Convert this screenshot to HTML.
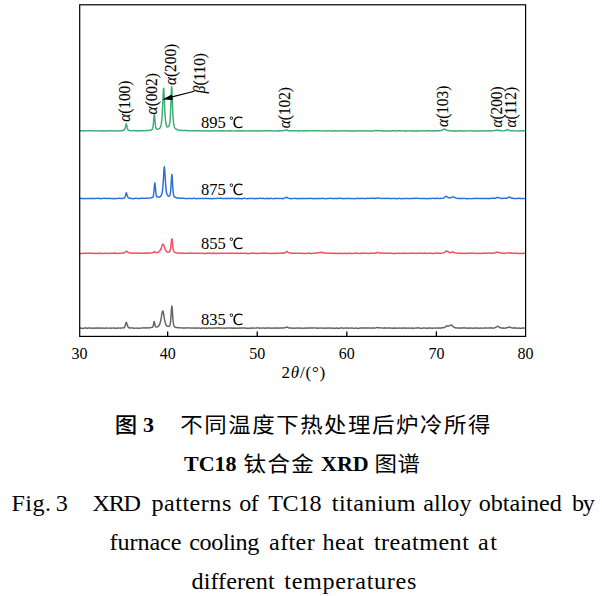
<!DOCTYPE html>
<html><head><meta charset="utf-8"><style>
html,body{margin:0;padding:0;background:#fff;overflow:hidden;width:602px;height:596px;}
svg{display:block;}
.lab{font-family:"Liberation Serif",serif;font-size:17px;fill:#000;stroke:#000;stroke-width:0.15px;}
.it{font-style:italic;}
.tick{font-family:"Liberation Serif",serif;font-size:16px;fill:#000;}
.temp{font-family:"Liberation Serif",serif;font-size:16.5px;fill:#000;}
.deg{font-family:"WenQuanYi Zen Hei",sans-serif;font-size:15.5px;}
.cn{font-family:"Liberation Serif","Noto Sans CJK SC",sans-serif;font-size:21px;fill:#000;}
.cnb{font-family:"Liberation Serif","Noto Sans CJK SC",sans-serif;font-size:22px;font-weight:700;fill:#000;}
.en{font-family:"Liberation Serif",serif;font-size:23px;fill:#000;}
</style></head><body>
<svg width="602" height="596" viewBox="0 0 602 596">
<rect width="602" height="596" fill="#fff"/>
<polyline points="79.70,130.90 80.15,130.90 80.60,130.83 81.04,130.76 81.49,130.75 81.94,130.77 82.39,130.91 82.84,131.00 83.28,130.87 83.73,130.83 84.18,130.92 84.63,130.95 85.08,130.87 85.52,130.80 85.97,130.87 86.42,130.89 86.87,130.76 87.31,130.68 87.76,130.61 88.21,130.57 88.66,130.63 89.11,130.71 89.55,130.76 90.00,130.86 90.45,130.90 90.90,130.75 91.35,130.60 91.79,130.70 92.24,130.86 92.69,130.82 93.14,130.71 93.59,130.71 94.03,130.72 94.48,130.81 94.93,130.91 95.38,130.85 95.82,130.88 96.27,130.94 96.72,130.86 97.17,130.85 97.62,130.89 98.06,130.83 98.51,130.76 98.96,130.89 99.41,130.94 99.86,130.83 100.30,130.89 100.75,130.90 101.20,130.92 101.65,131.08 102.10,130.99 102.54,130.80 102.99,130.85 103.44,130.93 103.89,130.92 104.33,130.93 104.78,130.93 105.23,131.01 105.68,131.02 106.13,130.89 106.57,130.83 107.02,130.84 107.47,130.80 107.92,130.73 108.37,130.74 108.81,130.86 109.26,131.00 109.71,130.96 110.16,130.75 110.61,130.75 111.05,130.79 111.50,130.67 111.95,130.71 112.40,130.89 112.84,131.01 113.29,130.97 113.74,130.84 114.19,130.79 114.64,130.88 115.08,130.97 115.53,130.86 115.98,130.81 116.43,130.85 116.88,130.83 117.32,130.75 117.77,130.71 118.22,130.75 118.67,130.83 119.12,130.94 119.56,130.93 120.01,130.86 120.46,130.83 120.91,130.82 121.36,130.84 121.80,130.81 122.25,130.69 122.70,130.57 123.15,130.48 123.59,130.25 124.04,130.02 124.49,129.75 124.94,128.92 125.39,127.40 125.83,125.30 126.04,124.30 126.26,123.86 126.28,123.97 126.49,124.35 126.73,125.27 127.18,127.49 127.63,129.20 128.07,130.00 128.52,130.25 128.97,130.44 129.42,130.53 129.87,130.55 130.31,130.61 130.76,130.68 131.21,130.79 131.66,130.81 132.10,130.74 132.55,130.70 133.00,130.63 133.45,130.51 133.90,130.58 134.34,130.65 134.79,130.63 135.24,130.67 135.69,130.69 136.14,130.73 136.58,130.77 137.03,130.82 137.48,130.75 137.93,130.69 138.38,130.89 138.82,130.97 139.27,130.82 139.72,130.72 140.17,130.68 140.61,130.70 141.06,130.78 141.51,130.74 141.96,130.67 142.41,130.62 142.85,130.56 143.30,130.62 143.75,130.76 144.20,130.79 144.65,130.78 145.09,130.69 145.54,130.58 145.99,130.55 146.44,130.56 146.89,130.57 147.33,130.54 147.78,130.45 148.23,130.34 148.68,130.43 149.12,130.55 149.57,130.37 150.02,130.22 150.47,130.31 150.92,130.24 151.36,129.92 151.81,129.64 152.26,129.18 152.71,128.15 153.16,125.82 153.60,121.13 154.05,115.57 154.08,115.31 154.30,114.33 154.50,115.06 154.53,115.22 154.95,120.08 155.40,125.04 155.84,127.83 156.29,128.83 156.74,129.15 157.19,129.23 157.63,129.16 158.08,129.10 158.53,129.00 158.98,128.73 159.43,128.36 159.87,127.97 160.32,127.37 160.77,126.30 161.22,124.45 161.67,121.25 162.11,116.02 162.56,108.02 163.01,97.41 163.39,89.59 163.46,88.90 163.62,88.15 163.84,89.66 163.91,90.51 164.35,100.29 164.80,110.39 165.25,117.53 165.70,121.99 166.15,124.54 166.59,125.96 167.04,126.79 167.49,127.02 167.94,126.80 168.38,126.55 168.83,126.18 169.28,125.14 169.73,123.11 170.18,118.92 170.62,110.82 171.07,98.64 171.46,88.65 171.52,87.72 171.68,86.56 171.91,88.74 171.97,89.93 172.42,102.66 172.86,113.93 173.31,120.73 173.76,124.37 174.21,126.43 174.66,127.61 175.10,128.27 175.55,128.67 176.00,128.98 176.45,129.24 176.89,129.50 177.34,129.73 177.79,129.88 178.24,130.06 178.69,130.29 179.13,130.36 179.58,130.28 180.03,130.35 180.48,130.42 180.93,130.34 181.37,130.29 181.82,130.41 182.27,130.57 182.72,130.58 183.17,130.56 183.61,130.62 184.06,130.71 184.51,130.57 184.96,130.39 185.40,130.38 185.85,130.28 186.30,130.23 186.75,130.54 187.20,130.81 187.64,130.72 188.09,130.56 188.54,130.63 188.99,130.81 189.44,130.82 189.88,130.76 190.33,130.76 190.78,130.80 191.23,130.88 191.68,130.88 192.12,130.77 192.57,130.71 193.02,130.75 193.47,130.80 193.91,130.81 194.36,130.72 194.81,130.72 195.26,130.73 195.71,130.76 196.15,130.99 196.60,131.02 197.05,130.88 197.50,130.89 197.95,130.77 198.39,130.59 198.84,130.72 199.29,130.84 199.74,130.78 200.19,130.71 200.63,130.74 201.08,130.86 201.53,130.96 201.98,130.93 202.42,130.93 202.87,130.97 203.32,130.84 203.77,130.69 204.22,130.72 204.66,130.96 205.11,131.07 205.56,131.02 206.01,130.97 206.46,130.91 206.90,130.87 207.35,130.83 207.80,130.82 208.25,130.93 208.70,131.04 209.14,130.99 209.59,130.85 210.04,130.77 210.49,130.85 210.94,131.01 211.38,131.00 211.83,130.88 212.28,130.78 212.73,130.73 213.17,130.85 213.62,130.93 214.07,130.86 214.52,130.81 214.97,130.84 215.41,130.79 215.86,130.70 216.31,130.72 216.76,130.82 217.21,130.88 217.65,130.87 218.10,130.97 218.55,131.04 219.00,130.89 219.45,130.81 219.89,130.86 220.34,130.83 220.79,130.80 221.24,130.97 221.68,131.09 222.13,130.94 222.58,130.79 223.03,130.78 223.48,130.79 223.92,130.71 224.37,130.77 224.82,130.90 225.27,130.91 225.72,131.02 226.16,131.10 226.61,131.01 227.06,131.04 227.51,131.09 227.96,130.93 228.40,130.74 228.85,130.72 229.30,130.89 229.75,131.08 230.19,131.00 230.64,130.79 231.09,130.72 231.54,130.80 231.99,130.88 232.43,130.89 232.88,130.91 233.33,130.91 233.78,130.87 234.23,130.87 234.67,130.90 235.12,130.91 235.57,131.02 236.02,131.13 236.47,131.04 236.91,130.84 237.36,130.74 237.81,130.74 238.26,130.64 238.70,130.69 239.15,130.94 239.60,130.99 240.05,130.82 240.50,130.69 240.94,130.73 241.39,130.83 241.84,131.03 242.29,131.15 242.74,130.98 243.18,130.76 243.63,130.73 244.08,130.81 244.53,130.81 244.98,130.77 245.42,130.78 245.87,130.83 246.32,130.99 246.77,131.10 247.21,131.03 247.66,130.92 248.11,130.91 248.56,130.88 249.01,130.83 249.45,130.77 249.90,130.67 250.35,130.72 250.80,130.89 251.25,130.92 251.69,130.95 252.14,130.91 252.59,130.73 253.04,130.73 253.49,130.89 253.93,130.92 254.38,130.92 254.83,130.98 255.28,130.90 255.73,130.73 256.17,130.78 256.62,130.95 257.07,130.88 257.52,130.79 257.96,130.96 258.41,131.08 258.86,131.03 259.31,130.90 259.76,130.78 260.20,130.89 260.65,131.08 261.10,131.08 261.55,131.01 262.00,130.91 262.44,130.79 262.89,130.71 263.34,130.82 263.79,130.91 264.24,130.87 264.68,130.95 265.13,130.93 265.58,130.78 266.03,130.76 266.47,130.82 266.92,130.84 267.37,130.79 267.82,130.77 268.27,130.77 268.71,130.71 269.16,130.71 269.61,130.86 270.06,130.90 270.51,130.78 270.95,130.78 271.40,130.78 271.85,130.80 272.30,130.90 272.75,130.95 273.19,130.97 273.64,130.90 274.09,130.88 274.54,130.85 274.98,130.83 275.43,130.90 275.88,130.93 276.33,130.94 276.78,130.86 277.22,130.77 277.67,130.82 278.12,130.93 278.57,130.93 279.02,130.83 279.46,130.74 279.91,130.73 280.36,130.80 280.81,130.70 281.26,130.63 281.70,130.82 282.15,130.88 282.60,130.69 283.05,130.61 283.49,130.61 283.94,130.62 284.39,130.61 284.84,130.44 285.29,130.28 285.73,130.15 286.18,130.00 286.21,129.97 286.43,129.86 286.63,129.75 286.66,129.86 287.08,130.22 287.53,130.41 287.97,130.53 288.42,130.67 288.87,130.76 289.32,130.90 289.77,130.97 290.21,130.76 290.66,130.59 291.11,130.61 291.56,130.72 292.00,130.92 292.45,130.94 292.90,130.75 293.35,130.67 293.80,130.85 294.24,130.86 294.69,130.70 295.14,130.74 295.59,130.86 296.04,130.88 296.48,130.82 296.93,130.73 297.38,130.67 297.83,130.79 298.28,131.02 298.72,131.02 299.17,130.85 299.62,130.69 300.07,130.64 300.52,130.76 300.96,130.86 301.41,130.88 301.86,130.82 302.31,130.77 302.75,130.83 303.20,130.95 303.65,131.11 304.10,131.14 304.55,130.93 304.99,130.81 305.44,130.82 305.89,130.79 306.34,130.79 306.79,130.80 307.23,130.82 307.68,130.90 308.13,130.93 308.58,130.90 309.03,130.85 309.47,130.77 309.92,130.75 310.37,130.80 310.82,130.84 311.26,130.89 311.71,130.84 312.16,130.76 312.61,130.77 313.06,130.73 313.50,130.75 313.95,130.73 314.40,130.68 314.85,130.81 315.30,130.91 315.74,130.87 316.19,130.83 316.64,130.79 317.09,130.77 317.54,130.79 317.98,130.83 318.43,130.82 318.88,130.79 319.33,130.87 319.77,130.91 320.22,130.87 320.67,130.87 321.12,130.85 321.57,130.78 322.01,130.87 322.46,130.96 322.91,130.96 323.36,130.92 323.81,130.84 324.25,130.87 324.70,130.97 325.15,130.98 325.60,130.86 326.05,130.78 326.49,130.93 326.94,131.09 327.39,131.07 327.84,130.89 328.28,130.80 328.73,130.91 329.18,130.80 329.63,130.65 330.08,130.73 330.52,130.70 330.97,130.66 331.42,130.83 331.87,130.97 332.32,130.94 332.76,130.99 333.21,131.16 333.66,131.14 334.11,130.95 334.56,130.80 335.00,130.72 335.45,130.79 335.90,130.92 336.35,130.96 336.79,130.98 337.24,130.96 337.69,130.87 338.14,130.89 338.59,131.00 339.03,131.04 339.48,131.05 339.93,130.97 340.38,130.90 340.83,130.87 341.27,130.73 341.72,130.71 342.17,130.87 342.62,130.94 343.07,130.84 343.51,130.72 343.96,130.75 344.41,130.78 344.86,130.67 345.31,130.61 345.75,130.80 346.20,130.99 346.65,130.95 347.10,130.85 347.54,130.90 347.99,130.83 348.44,130.65 348.89,130.77 349.34,130.98 349.78,131.08 350.23,131.16 350.68,131.11 351.13,131.00 351.58,130.98 352.02,130.96 352.47,130.88 352.92,130.91 353.37,131.08 353.82,131.13 354.26,130.98 354.71,130.89 355.16,130.98 355.61,131.04 356.05,131.03 356.50,130.99 356.95,130.86 357.40,130.82 357.85,130.91 358.29,131.02 358.74,130.96 359.19,130.75 359.64,130.75 360.09,130.85 360.53,130.77 360.98,130.76 361.43,130.95 361.88,131.02 362.33,130.95 362.77,130.92 363.22,130.96 363.67,130.98 364.12,130.95 364.56,130.82 365.01,130.77 365.46,130.84 365.91,130.87 366.36,130.94 366.80,130.91 367.25,130.82 367.70,130.84 368.15,130.91 368.60,130.93 369.04,130.85 369.49,130.88 369.94,131.10 370.39,131.27 370.84,131.20 371.28,131.00 371.73,130.99 372.18,131.04 372.63,130.90 373.07,130.78 373.52,130.86 373.97,130.88 374.42,130.72 374.87,130.57 375.31,130.64 375.76,130.76 376.21,130.71 376.66,130.68 377.11,130.71 377.55,130.68 377.94,130.62 378.00,130.59 378.16,130.52 378.39,130.47 378.45,130.54 378.90,130.70 379.35,130.70 379.79,130.64 380.24,130.69 380.69,130.80 381.14,130.81 381.58,130.68 382.03,130.66 382.48,130.91 382.93,131.16 383.38,131.10 383.82,130.96 384.27,131.05 384.72,131.12 385.17,130.95 385.62,130.90 386.06,131.02 386.51,131.03 386.96,130.96 387.41,130.97 387.86,131.14 388.30,131.19 388.75,131.07 389.20,130.89 389.65,130.76 390.10,130.85 390.54,130.93 390.99,130.96 391.44,130.97 391.89,130.81 392.33,130.73 392.78,130.81 393.23,130.82 393.68,130.79 394.13,130.80 394.57,130.72 395.02,130.71 395.47,130.91 395.92,131.04 396.37,131.12 396.81,131.15 397.26,130.91 397.71,130.67 398.16,130.66 398.61,130.71 399.05,130.79 399.50,130.78 399.95,130.72 400.40,130.75 400.84,130.78 401.29,130.84 401.74,130.88 402.19,130.86 402.64,130.85 403.08,130.81 403.53,130.72 403.98,130.70 404.43,130.90 404.88,131.18 405.32,131.25 405.77,131.16 406.22,131.00 406.67,130.94 407.12,131.00 407.56,130.96 408.01,130.87 408.46,130.87 408.91,130.87 409.35,130.85 409.80,130.81 410.25,130.76 410.70,130.92 411.15,131.10 411.59,130.99 412.04,130.89 412.49,130.97 412.94,130.94 413.39,130.81 413.83,130.86 414.28,130.99 414.73,130.97 415.18,131.00 415.63,131.02 416.07,130.91 416.52,130.84 416.97,130.92 417.42,130.92 417.86,130.74 418.31,130.70 418.76,130.84 419.21,130.96 419.66,131.06 420.10,130.98 420.55,130.84 421.00,130.87 421.45,130.87 421.90,130.84 422.34,130.87 422.79,130.72 423.24,130.62 423.69,130.67 424.14,130.69 424.58,130.77 425.03,130.91 425.48,131.02 425.93,131.05 426.37,130.87 426.82,130.69 427.27,130.69 427.72,130.70 428.17,130.74 428.61,130.84 429.06,130.74 429.51,130.69 429.96,130.85 430.41,130.92 430.85,130.92 431.30,130.94 431.75,130.95 432.20,130.97 432.65,131.02 433.09,131.00 433.54,130.95 433.99,130.86 434.44,130.73 434.89,130.76 435.33,130.83 435.78,130.79 436.23,130.80 436.68,130.94 437.12,130.87 437.57,130.63 438.02,130.57 438.47,130.69 438.92,130.73 439.36,130.69 439.81,130.66 440.26,130.63 440.71,130.56 441.16,130.41 441.60,130.31 442.05,130.34 442.50,130.14 442.95,129.66 443.40,129.31 443.84,129.25 443.87,129.29 444.09,129.20 444.29,129.20 444.32,129.24 444.74,129.28 445.19,129.46 445.63,129.66 446.08,129.78 446.53,130.01 446.98,130.34 447.43,130.55 447.87,130.55 448.32,130.50 448.77,130.66 449.22,130.87 449.67,130.89 450.11,130.79 450.56,130.77 451.01,130.82 451.46,130.76 451.91,130.66 452.35,130.79 452.80,130.97 453.25,131.01 453.70,130.97 454.14,130.92 454.59,130.91 455.04,130.85 455.49,130.95 455.94,131.15 456.38,131.05 456.83,130.86 457.28,130.86 457.73,130.97 458.18,130.99 458.62,130.81 459.07,130.67 459.52,130.77 459.97,130.88 460.42,130.96 460.86,131.04 461.31,131.02 461.76,130.93 462.21,130.86 462.65,131.02 463.10,131.18 463.55,131.08 464.00,130.96 464.45,131.01 464.89,131.03 465.34,130.88 465.79,130.86 466.24,130.97 466.69,130.97 467.13,130.90 467.58,130.89 468.03,130.88 468.48,130.88 468.93,130.83 469.37,130.77 469.82,130.88 470.27,130.93 470.72,130.83 471.16,130.85 471.61,130.89 472.06,130.83 472.51,130.80 472.96,130.85 473.40,131.07 473.85,131.28 474.30,131.20 474.75,131.01 475.20,130.96 475.64,130.95 476.09,130.98 476.54,130.98 476.99,130.89 477.44,130.93 477.88,131.01 478.33,131.04 478.78,130.95 479.23,130.85 479.68,130.92 480.12,130.98 480.57,130.95 481.02,130.91 481.47,130.75 481.91,130.69 482.36,130.91 482.81,131.01 483.26,130.94 483.71,130.95 484.15,130.97 484.60,130.86 485.05,130.78 485.50,130.89 485.95,130.92 486.39,130.86 486.84,130.90 487.29,130.82 487.74,130.80 488.19,130.94 488.63,130.86 489.08,130.72 489.53,130.81 489.98,131.00 490.42,131.00 490.87,130.89 491.32,130.90 491.77,130.90 492.22,130.82 492.66,130.82 493.11,130.78 493.56,130.68 494.01,130.63 494.46,130.61 494.90,130.50 495.35,130.31 495.80,130.21 496.25,130.16 496.70,130.05 496.90,130.06 497.13,130.08 497.14,130.12 497.35,130.11 497.59,130.01 498.04,130.09 498.49,130.33 498.93,130.64 499.38,130.68 499.83,130.46 500.28,130.53 500.73,130.80 501.17,130.92 501.62,130.90 502.07,130.85 502.52,130.87 502.97,130.88 503.41,130.86 503.86,130.76 504.31,130.60 504.76,130.59 505.21,130.58 505.65,130.50 506.10,130.27 506.55,129.99 507.00,129.81 507.44,129.59 507.47,129.49 507.70,129.48 507.89,129.64 507.92,129.81 508.34,129.96 508.79,130.14 509.24,130.37 509.68,130.51 510.13,130.62 510.58,130.80 511.03,130.87 511.48,130.80 511.92,130.77 512.37,130.81 512.82,130.80 513.27,130.81 513.72,130.89 514.16,130.89 514.61,130.85 515.06,130.83 515.51,130.88 515.95,130.91 516.40,130.95 516.85,131.08 517.30,131.11 517.75,131.12 518.19,131.03 518.64,130.85 519.09,130.83 519.54,130.91 519.99,130.92 520.43,130.88 520.88,130.77 521.33,130.68 521.78,130.66 522.23,130.67 522.67,130.78 523.12,130.80 523.57,130.77 524.02,130.85 524.47,130.84 524.91,130.67 525.36,130.65" fill="none" stroke="#3aad72" stroke-width="1.45" stroke-linejoin="round"/>
<polyline points="79.70,198.28 80.15,198.19 80.60,198.37 81.04,198.55 81.49,198.50 81.94,198.44 82.39,198.40 82.84,198.44 83.28,198.47 83.73,198.50 84.18,198.63 84.63,198.71 85.08,198.60 85.52,198.46 85.97,198.43 86.42,198.49 86.87,198.54 87.31,198.56 87.76,198.62 88.21,198.56 88.66,198.36 89.11,198.41 89.55,198.55 90.00,198.46 90.45,198.38 90.90,198.35 91.35,198.34 91.79,198.55 92.24,198.80 92.69,198.67 93.14,198.39 93.59,198.33 94.03,198.45 94.48,198.53 94.93,198.42 95.38,198.42 95.82,198.59 96.27,198.60 96.72,198.44 97.17,198.28 97.62,198.24 98.06,198.23 98.51,198.27 98.96,198.42 99.41,198.48 99.86,198.60 100.30,198.76 100.75,198.64 101.20,198.47 101.65,198.57 102.10,198.61 102.54,198.42 102.99,198.35 103.44,198.34 103.89,198.39 104.33,198.43 104.78,198.26 105.23,198.24 105.68,198.39 106.13,198.45 106.57,198.50 107.02,198.50 107.47,198.53 107.92,198.48 108.37,198.32 108.81,198.34 109.26,198.41 109.71,198.47 110.16,198.46 110.61,198.36 111.05,198.40 111.50,198.54 111.95,198.51 112.40,198.52 112.84,198.76 113.29,198.73 113.74,198.45 114.19,198.55 114.64,198.77 115.08,198.68 115.53,198.51 115.98,198.42 116.43,198.38 116.88,198.38 117.32,198.42 117.77,198.48 118.22,198.42 118.67,198.32 119.12,198.29 119.56,198.32 120.01,198.32 120.46,198.40 120.91,198.52 121.36,198.50 121.80,198.46 122.25,198.41 122.70,198.33 123.15,198.24 123.59,198.20 124.04,198.08 124.49,197.80 124.94,197.26 125.39,195.96 125.83,194.06 126.13,193.03 126.28,192.81 126.35,192.81 126.58,193.14 126.73,193.65 127.18,195.26 127.63,196.54 128.07,197.36 128.52,197.77 128.97,198.11 129.42,198.38 129.87,198.34 130.31,198.18 130.76,198.29 131.21,198.52 131.66,198.50 132.10,198.46 132.55,198.62 133.00,198.77 133.45,198.67 133.90,198.51 134.34,198.49 134.79,198.46 135.24,198.33 135.69,198.28 136.14,198.32 136.58,198.32 137.03,198.37 137.48,198.54 137.93,198.61 138.38,198.44 138.82,198.35 139.27,198.41 139.72,198.49 140.17,198.51 140.61,198.36 141.06,198.21 141.51,198.14 141.96,198.24 142.41,198.40 142.85,198.36 143.30,198.26 143.75,198.28 144.20,198.37 144.65,198.38 145.09,198.30 145.54,198.19 145.99,198.08 146.44,198.19 146.89,198.30 147.33,198.13 147.78,198.14 148.23,198.24 148.68,198.16 149.12,198.10 149.57,198.12 150.02,198.11 150.47,197.96 150.92,197.80 151.36,197.75 151.81,197.65 152.26,197.49 152.71,197.25 153.16,196.54 153.60,194.50 154.05,190.32 154.50,184.95 154.62,183.93 154.84,182.98 154.95,183.15 155.06,183.72 155.40,187.35 155.84,192.41 156.29,195.29 156.74,196.54 157.19,196.99 157.63,197.06 158.08,197.02 158.53,197.06 158.98,197.16 159.43,197.17 159.87,196.98 160.32,196.59 160.77,196.08 161.22,195.47 161.67,194.53 162.11,192.85 162.56,189.95 163.01,185.13 163.46,177.99 163.91,170.26 164.11,167.76 164.34,166.72 164.35,166.84 164.56,168.06 164.80,170.97 165.25,178.42 165.70,185.35 166.15,190.11 166.59,192.80 167.04,194.29 167.49,195.21 167.94,195.79 168.38,196.13 168.83,196.27 169.28,196.16 169.73,195.68 170.18,194.36 170.62,191.07 171.07,184.89 171.52,177.19 171.64,175.70 171.86,174.39 171.97,174.76 172.08,175.72 172.42,181.04 172.86,188.69 173.31,193.39 173.76,195.59 174.21,196.65 174.66,197.17 175.10,197.28 175.55,197.28 176.00,197.48 176.45,197.69 176.89,197.80 177.34,198.01 177.79,198.15 178.24,198.04 178.69,198.09 179.13,198.29 179.58,198.19 180.03,198.09 180.48,198.22 180.93,198.28 181.37,198.27 181.82,198.31 182.27,198.25 182.72,198.21 183.17,198.34 183.61,198.39 184.06,198.34 184.51,198.35 184.96,198.51 185.40,198.61 185.85,198.52 186.30,198.48 186.75,198.45 187.20,198.41 187.64,198.51 188.09,198.59 188.54,198.60 188.99,198.48 189.44,198.34 189.88,198.36 190.33,198.47 190.78,198.58 191.23,198.62 191.68,198.59 192.12,198.64 192.57,198.65 193.02,198.45 193.47,198.24 193.91,198.18 194.36,198.32 194.81,198.49 195.26,198.50 195.71,198.56 196.15,198.66 196.60,198.70 197.05,198.63 197.50,198.48 197.95,198.43 198.39,198.46 198.84,198.45 199.29,198.41 199.74,198.51 200.19,198.54 200.63,198.39 201.08,198.36 201.53,198.40 201.98,198.48 202.42,198.56 202.87,198.54 203.32,198.46 203.77,198.40 204.22,198.47 204.66,198.50 205.11,198.51 205.56,198.39 206.01,198.18 206.46,198.28 206.90,198.53 207.35,198.65 207.80,198.59 208.25,198.44 208.70,198.42 209.14,198.64 209.59,198.73 210.04,198.56 210.49,198.38 210.94,198.35 211.38,198.62 211.83,198.83 212.28,198.75 212.73,198.67 213.17,198.55 213.62,198.48 214.07,198.50 214.52,198.41 214.97,198.41 215.41,198.54 215.86,198.60 216.31,198.59 216.76,198.50 217.21,198.36 217.65,198.32 218.10,198.39 218.55,198.35 219.00,198.25 219.45,198.27 219.89,198.28 220.34,198.21 220.79,198.18 221.24,198.26 221.68,198.44 222.13,198.64 222.58,198.63 223.03,198.40 223.48,198.39 223.92,198.53 224.37,198.49 224.82,198.53 225.27,198.62 225.72,198.48 226.16,198.29 226.61,198.31 227.06,198.47 227.51,198.47 227.96,198.32 228.40,198.35 228.85,198.52 229.30,198.54 229.75,198.48 230.19,198.55 230.64,198.49 231.09,198.32 231.54,198.39 231.99,198.49 232.43,198.35 232.88,198.23 233.33,198.39 233.78,198.63 234.23,198.58 234.67,198.48 235.12,198.59 235.57,198.56 236.02,198.59 236.47,198.71 236.91,198.66 237.36,198.50 237.81,198.41 238.26,198.46 238.70,198.32 239.15,198.34 239.60,198.68 240.05,198.79 240.50,198.66 240.94,198.56 241.39,198.67 241.84,198.80 242.29,198.73 242.74,198.51 243.18,198.36 243.63,198.30 244.08,198.18 244.53,198.22 244.98,198.37 245.42,198.39 245.87,198.42 246.32,198.57 246.77,198.74 247.21,198.72 247.66,198.61 248.11,198.57 248.56,198.46 249.01,198.47 249.45,198.50 249.90,198.40 250.35,198.34 250.80,198.35 251.25,198.52 251.69,198.62 252.14,198.51 252.59,198.43 253.04,198.36 253.49,198.27 253.93,198.38 254.38,198.69 254.83,198.83 255.28,198.62 255.73,198.48 256.17,198.51 256.62,198.53 257.07,198.57 257.52,198.58 257.96,198.57 258.41,198.54 258.86,198.45 259.31,198.34 259.76,198.28 260.20,198.29 260.65,198.32 261.10,198.36 261.55,198.40 262.00,198.48 262.44,198.47 262.89,198.33 263.34,198.29 263.79,198.40 264.24,198.61 264.68,198.74 265.13,198.65 265.58,198.57 266.03,198.55 266.47,198.49 266.92,198.53 267.37,198.36 267.82,198.31 268.27,198.70 268.71,198.73 269.16,198.48 269.61,198.45 270.06,198.48 270.51,198.42 270.95,198.31 271.40,198.37 271.85,198.51 272.30,198.60 272.75,198.63 273.19,198.68 273.64,198.69 274.09,198.55 274.54,198.38 274.98,198.25 275.43,198.33 275.88,198.51 276.33,198.48 276.78,198.49 277.22,198.45 277.67,198.36 278.12,198.37 278.57,198.39 279.02,198.44 279.46,198.56 279.91,198.55 280.36,198.40 280.81,198.36 281.26,198.44 281.70,198.51 282.15,198.68 282.60,198.80 283.05,198.64 283.49,198.43 283.94,198.30 284.39,198.15 284.84,197.98 285.29,197.81 285.73,197.62 286.18,197.45 286.57,197.36 286.63,197.30 286.79,197.20 287.02,197.27 287.08,197.47 287.53,197.77 287.97,198.05 288.42,198.28 288.87,198.38 289.32,198.40 289.77,198.57 290.21,198.65 290.66,198.50 291.11,198.58 291.56,198.70 292.00,198.62 292.45,198.63 292.90,198.60 293.35,198.49 293.80,198.44 294.24,198.38 294.69,198.33 295.14,198.38 295.59,198.44 296.04,198.52 296.48,198.47 296.93,198.47 297.38,198.68 297.83,198.74 298.28,198.60 298.72,198.49 299.17,198.49 299.62,198.56 300.07,198.47 300.52,198.38 300.96,198.63 301.41,198.73 301.86,198.50 302.31,198.52 302.75,198.58 303.20,198.57 303.65,198.57 304.10,198.45 304.55,198.52 304.99,198.64 305.44,198.53 305.89,198.45 306.34,198.46 306.79,198.53 307.23,198.58 307.68,198.53 308.13,198.47 308.58,198.45 309.03,198.49 309.47,198.39 309.92,198.22 310.37,198.31 310.82,198.36 311.26,198.47 311.71,198.57 312.16,198.41 312.61,198.40 313.06,198.60 313.50,198.66 313.95,198.68 314.40,198.56 314.85,198.42 315.30,198.51 315.74,198.67 316.19,198.66 316.64,198.55 317.09,198.50 317.54,198.46 317.98,198.53 318.43,198.67 318.88,198.54 319.33,198.36 319.77,198.43 320.22,198.58 320.67,198.59 321.12,198.48 321.57,198.42 322.01,198.38 322.46,198.26 322.91,198.32 323.36,198.49 323.81,198.51 324.25,198.57 324.70,198.67 325.15,198.63 325.60,198.64 326.05,198.75 326.49,198.66 326.94,198.53 327.39,198.57 327.84,198.53 328.28,198.43 328.73,198.45 329.18,198.38 329.63,198.28 330.08,198.36 330.52,198.44 330.97,198.35 331.42,198.29 331.87,198.37 332.32,198.48 332.76,198.45 333.21,198.42 333.66,198.44 334.11,198.39 334.56,198.48 335.00,198.58 335.45,198.47 335.90,198.46 336.35,198.56 336.79,198.50 337.24,198.46 337.69,198.56 338.14,198.50 338.59,198.28 339.03,198.25 339.48,198.30 339.93,198.29 340.38,198.31 340.83,198.38 341.27,198.44 341.72,198.43 342.17,198.48 342.62,198.51 343.07,198.45 343.51,198.56 343.96,198.69 344.41,198.58 344.86,198.44 345.31,198.41 345.75,198.41 346.20,198.52 346.65,198.56 347.10,198.45 347.54,198.49 347.99,198.57 348.44,198.51 348.89,198.44 349.34,198.36 349.78,198.33 350.23,198.51 350.68,198.67 351.13,198.54 351.58,198.39 352.02,198.41 352.47,198.48 352.92,198.56 353.37,198.65 353.82,198.72 354.26,198.69 354.71,198.67 355.16,198.63 355.61,198.50 356.05,198.38 356.50,198.41 356.95,198.47 357.40,198.36 357.85,198.31 358.29,198.46 358.74,198.48 359.19,198.42 359.64,198.44 360.09,198.48 360.53,198.46 360.98,198.34 361.43,198.35 361.88,198.48 362.33,198.50 362.77,198.43 363.22,198.38 363.67,198.38 364.12,198.50 364.56,198.55 365.01,198.52 365.46,198.63 365.91,198.63 366.36,198.53 366.80,198.47 367.25,198.30 367.70,198.18 368.15,198.25 368.60,198.37 369.04,198.41 369.49,198.42 369.94,198.36 370.39,198.30 370.84,198.35 371.28,198.33 371.73,198.32 372.18,198.34 372.63,198.27 373.07,198.22 373.52,198.29 373.97,198.43 374.42,198.53 374.87,198.46 375.31,198.28 375.76,198.18 376.21,198.18 376.66,198.11 377.11,198.00 377.55,198.02 378.00,197.91 378.30,197.82 378.45,197.94 378.52,198.03 378.75,198.04 378.90,198.05 379.35,198.12 379.79,198.28 380.24,198.36 380.69,198.39 381.14,198.48 381.58,198.47 382.03,198.39 382.48,198.33 382.93,198.41 383.38,198.46 383.82,198.41 384.27,198.49 384.72,198.56 385.17,198.41 385.62,198.27 386.06,198.39 386.51,198.50 386.96,198.44 387.41,198.34 387.86,198.29 388.30,198.40 388.75,198.50 389.20,198.45 389.65,198.38 390.10,198.46 390.54,198.54 390.99,198.51 391.44,198.41 391.89,198.50 392.33,198.64 392.78,198.49 393.23,198.37 393.68,198.38 394.13,198.44 394.57,198.65 395.02,198.69 395.47,198.42 395.92,198.34 396.37,198.58 396.81,198.70 397.26,198.69 397.71,198.61 398.16,198.46 398.61,198.36 399.05,198.28 399.50,198.33 399.95,198.49 400.40,198.59 400.84,198.69 401.29,198.58 401.74,198.47 402.19,198.63 402.64,198.74 403.08,198.57 403.53,198.42 403.98,198.54 404.43,198.63 404.88,198.47 405.32,198.44 405.77,198.56 406.22,198.50 406.67,198.37 407.12,198.36 407.56,198.41 408.01,198.49 408.46,198.58 408.91,198.65 409.35,198.54 409.80,198.39 410.25,198.50 410.70,198.63 411.15,198.64 411.59,198.59 412.04,198.44 412.49,198.42 412.94,198.49 413.39,198.32 413.83,198.27 414.28,198.45 414.73,198.46 415.18,198.36 415.63,198.27 416.07,198.23 416.52,198.29 416.97,198.42 417.42,198.40 417.86,198.32 418.31,198.39 418.76,198.36 419.21,198.36 419.66,198.50 420.10,198.44 420.55,198.42 421.00,198.55 421.45,198.51 421.90,198.48 422.34,198.59 422.79,198.62 423.24,198.56 423.69,198.53 424.14,198.52 424.58,198.52 425.03,198.45 425.48,198.51 425.93,198.67 426.37,198.62 426.82,198.62 427.27,198.73 427.72,198.59 428.17,198.46 428.61,198.46 429.06,198.46 429.51,198.59 429.96,198.63 430.41,198.45 430.85,198.39 431.30,198.46 431.75,198.44 432.20,198.40 432.65,198.38 433.09,198.27 433.54,198.30 433.99,198.39 434.44,198.43 434.89,198.42 435.33,198.38 435.78,198.44 436.23,198.43 436.68,198.31 437.12,198.22 437.57,198.27 438.02,198.36 438.47,198.35 438.92,198.43 439.36,198.57 439.81,198.63 440.26,198.58 440.71,198.36 441.16,198.27 441.60,198.37 442.05,198.39 442.50,198.31 442.95,198.18 443.40,198.05 443.84,197.83 444.29,197.48 444.74,197.10 445.19,196.71 445.63,196.40 445.84,196.35 446.06,196.32 446.08,196.32 446.29,196.40 446.53,196.47 446.98,196.71 447.43,197.00 447.87,197.37 448.32,197.74 448.77,197.75 449.22,197.67 449.67,197.72 450.11,197.86 450.56,197.92 451.01,197.72 451.46,197.41 451.91,197.12 452.35,197.01 452.65,197.11 452.80,197.11 452.87,196.98 453.10,196.99 453.25,196.99 453.70,197.04 454.14,197.27 454.59,197.42 455.04,197.56 455.49,197.92 455.94,198.15 456.38,198.10 456.83,198.18 457.28,198.41 457.73,198.50 458.18,198.56 458.62,198.56 459.07,198.46 459.52,198.46 459.97,198.44 460.42,198.41 460.86,198.42 461.31,198.49 461.76,198.56 462.21,198.51 462.65,198.43 463.10,198.44 463.55,198.44 464.00,198.36 464.45,198.37 464.89,198.41 465.34,198.40 465.79,198.40 466.24,198.50 466.69,198.71 467.13,198.73 467.58,198.58 468.03,198.60 468.48,198.71 468.93,198.62 469.37,198.50 469.82,198.52 470.27,198.60 470.72,198.64 471.16,198.65 471.61,198.65 472.06,198.53 472.51,198.46 472.96,198.51 473.40,198.60 473.85,198.54 474.30,198.51 474.75,198.64 475.20,198.60 475.64,198.42 476.09,198.32 476.54,198.33 476.99,198.42 477.44,198.46 477.88,198.41 478.33,198.38 478.78,198.37 479.23,198.42 479.68,198.58 480.12,198.57 480.57,198.36 481.02,198.36 481.47,198.46 481.91,198.46 482.36,198.41 482.81,198.37 483.26,198.41 483.71,198.51 484.15,198.52 484.60,198.49 485.05,198.50 485.50,198.40 485.95,198.34 486.39,198.47 486.84,198.53 487.29,198.52 487.74,198.63 488.19,198.59 488.63,198.38 489.08,198.41 489.53,198.65 489.98,198.65 490.42,198.40 490.87,198.27 491.32,198.30 491.77,198.29 492.22,198.26 492.66,198.29 493.11,198.23 493.56,198.26 494.01,198.36 494.46,198.30 494.90,198.24 495.35,198.26 495.80,198.12 496.25,197.87 496.70,197.63 497.14,197.52 497.59,197.57 497.62,197.50 497.84,197.31 498.04,197.38 498.07,197.49 498.49,197.67 498.93,197.93 499.38,198.04 499.83,198.01 500.28,198.03 500.73,198.11 501.17,198.27 501.62,198.51 502.07,198.66 502.52,198.43 502.97,198.16 503.41,198.24 503.86,198.32 504.31,198.24 504.76,198.23 505.21,198.32 505.65,198.37 506.10,198.29 506.55,198.22 507.00,198.19 507.44,198.00 507.89,197.70 508.34,197.41 508.79,197.26 509.24,197.16 509.26,197.07 509.49,197.13 509.68,197.25 509.71,197.22 510.13,197.30 510.58,197.55 511.03,197.95 511.48,198.21 511.92,198.17 512.37,198.06 512.82,198.20 513.27,198.51 513.72,198.64 514.16,198.60 514.61,198.54 515.06,198.44 515.51,198.40 515.95,198.47 516.40,198.43 516.85,198.38 517.30,198.55 517.75,198.59 518.19,198.36 518.64,198.30 519.09,198.41 519.54,198.31 519.99,198.25 520.43,198.45 520.88,198.52 521.33,198.55 521.78,198.68 522.23,198.57 522.67,198.42 523.12,198.41 523.57,198.35 524.02,198.38 524.47,198.46 524.91,198.43 525.36,198.42" fill="none" stroke="#2a6fdc" stroke-width="1.45" stroke-linejoin="round"/>
<polyline points="79.70,253.50 80.15,253.50 80.60,253.44 81.04,253.41 81.49,253.44 81.94,253.46 82.39,253.46 82.84,253.43 83.28,253.28 83.73,253.15 84.18,253.13 84.63,253.22 85.08,253.40 85.52,253.43 85.97,253.30 86.42,253.24 86.87,253.22 87.31,253.14 87.76,253.14 88.21,253.15 88.66,253.13 89.11,253.22 89.55,253.27 90.00,253.18 90.45,253.09 90.90,253.20 91.35,253.34 91.79,253.33 92.24,253.41 92.69,253.41 93.14,253.23 93.59,253.21 94.03,253.42 94.48,253.47 94.93,253.27 95.38,253.27 95.82,253.40 96.27,253.48 96.72,253.48 97.17,253.36 97.62,253.25 98.06,253.30 98.51,253.40 98.96,253.21 99.41,253.03 99.86,253.16 100.30,253.37 100.75,253.46 101.20,253.35 101.65,253.30 102.10,253.43 102.54,253.47 102.99,253.41 103.44,253.41 103.89,253.38 104.33,253.29 104.78,253.28 105.23,253.25 105.68,253.26 106.13,253.29 106.57,253.27 107.02,253.38 107.47,253.43 107.92,253.28 108.37,253.19 108.81,253.25 109.26,253.36 109.71,253.39 110.16,253.40 110.61,253.37 111.05,253.29 111.50,253.20 111.95,253.17 112.40,253.28 112.84,253.31 113.29,253.30 113.74,253.40 114.19,253.26 114.64,253.03 115.08,253.06 115.53,253.18 115.98,253.43 116.43,253.54 116.88,253.34 117.32,253.23 117.77,253.25 118.22,253.31 118.67,253.40 119.12,253.36 119.56,253.28 120.01,253.30 120.46,253.23 120.91,253.26 121.36,253.37 121.80,253.27 122.25,253.07 122.70,252.99 123.15,252.99 123.59,253.01 124.04,252.86 124.49,252.52 124.94,252.23 125.39,251.91 125.83,251.50 126.13,251.37 126.28,251.38 126.35,251.35 126.58,251.36 126.73,251.48 127.18,251.77 127.63,252.05 128.07,252.48 128.52,252.77 128.97,252.84 129.42,252.84 129.87,252.85 130.31,252.98 130.76,253.11 131.21,253.13 131.66,253.15 132.10,253.29 132.55,253.30 133.00,253.18 133.45,253.10 133.90,253.06 134.34,253.05 134.79,253.13 135.24,253.20 135.69,253.15 136.14,253.08 136.58,253.10 137.03,253.15 137.48,253.31 137.93,253.47 138.38,253.38 138.82,253.16 139.27,252.99 139.72,252.93 140.17,253.03 140.61,253.18 141.06,253.20 141.51,253.17 141.96,253.17 142.41,253.27 142.85,253.33 143.30,253.21 143.75,253.11 144.20,253.16 144.65,253.21 145.09,253.09 145.54,252.97 145.99,252.93 146.44,253.00 146.89,253.29 147.33,253.41 147.78,253.25 148.23,253.22 148.68,253.17 149.12,253.03 149.57,253.03 150.02,253.04 150.47,253.10 150.92,253.12 151.36,252.95 151.81,252.92 152.26,252.86 152.71,252.60 153.16,252.34 153.60,252.03 153.99,251.74 154.05,251.72 154.21,251.59 154.44,251.54 154.50,251.82 154.95,252.30 155.40,252.52 155.84,252.57 156.29,252.50 156.74,252.50 157.19,252.46 157.63,252.44 158.08,252.39 158.53,252.13 158.98,251.74 159.43,251.29 159.87,250.82 160.32,250.14 160.77,249.10 161.22,248.01 161.67,246.81 162.11,245.36 162.56,244.26 162.77,244.14 162.99,244.30 163.01,244.40 163.22,244.31 163.46,244.44 163.91,245.49 164.35,246.83 164.80,248.11 165.25,249.38 165.70,250.37 166.15,250.98 166.59,251.49 167.04,251.93 167.49,252.11 167.94,252.13 168.38,252.19 168.83,252.10 169.28,251.89 169.73,251.57 170.18,250.61 170.62,248.32 171.07,244.39 171.52,240.01 171.64,239.44 171.86,238.83 171.97,238.93 172.08,239.40 172.42,242.27 172.86,246.80 173.31,249.89 173.76,251.33 174.21,251.99 174.66,252.40 175.10,252.55 175.55,252.65 176.00,252.82 176.45,252.95 176.89,253.05 177.34,253.04 177.79,253.01 178.24,253.05 178.69,253.04 179.13,253.01 179.58,253.09 180.03,253.22 180.48,253.31 180.93,253.24 181.37,253.04 181.82,253.03 182.27,253.13 182.72,253.17 183.17,253.14 183.61,253.17 184.06,253.27 184.51,253.21 184.96,253.18 185.40,253.35 185.85,253.36 186.30,253.26 186.75,253.25 187.20,253.26 187.64,253.30 188.09,253.24 188.54,253.13 188.99,253.13 189.44,253.16 189.88,253.24 190.33,253.28 190.78,253.24 191.23,253.02 191.68,252.87 192.12,252.99 192.57,253.09 193.02,253.25 193.47,253.40 193.91,253.33 194.36,253.23 194.81,253.22 195.26,253.22 195.71,253.18 196.15,253.14 196.60,253.21 197.05,253.34 197.50,253.38 197.95,253.35 198.39,253.30 198.84,253.26 199.29,253.28 199.74,253.35 200.19,253.39 200.63,253.31 201.08,253.18 201.53,253.25 201.98,253.39 202.42,253.32 202.87,253.31 203.32,253.47 203.77,253.49 204.22,253.37 204.66,253.38 205.11,253.52 205.56,253.47 206.01,253.35 206.46,253.22 206.90,253.07 207.35,253.10 207.80,253.28 208.25,253.33 208.70,253.22 209.14,253.08 209.59,253.07 210.04,253.11 210.49,253.17 210.94,253.36 211.38,253.59 211.83,253.67 212.28,253.49 212.73,253.23 213.17,253.00 213.62,252.87 214.07,253.05 214.52,253.29 214.97,253.41 215.41,253.43 215.86,253.39 216.31,253.37 216.76,253.44 217.21,253.41 217.65,253.23 218.10,253.12 218.55,253.21 219.00,253.45 219.45,253.54 219.89,253.37 220.34,253.22 220.79,253.24 221.24,253.28 221.68,253.28 222.13,253.30 222.58,253.31 223.03,253.32 223.48,253.37 223.92,253.34 224.37,253.27 224.82,253.24 225.27,253.28 225.72,253.34 226.16,253.32 226.61,253.29 227.06,253.19 227.51,253.17 227.96,253.25 228.40,253.26 228.85,253.33 229.30,253.28 229.75,253.10 230.19,253.09 230.64,253.15 231.09,253.13 231.54,253.17 231.99,253.30 232.43,253.32 232.88,253.30 233.33,253.28 233.78,253.26 234.23,253.23 234.67,253.28 235.12,253.35 235.57,253.30 236.02,253.19 236.47,253.17 236.91,253.27 237.36,253.32 237.81,253.25 238.26,253.23 238.70,253.43 239.15,253.55 239.60,253.40 240.05,253.33 240.50,253.22 240.94,253.06 241.39,253.14 241.84,253.30 242.29,253.38 242.74,253.30 243.18,253.19 243.63,253.24 244.08,253.27 244.53,253.24 244.98,253.19 245.42,253.14 245.87,253.24 246.32,253.46 246.77,253.56 247.21,253.48 247.66,253.42 248.11,253.48 248.56,253.54 249.01,253.57 249.45,253.48 249.90,253.35 250.35,253.32 250.80,253.34 251.25,253.34 251.69,253.29 252.14,253.12 252.59,253.01 253.04,253.02 253.49,253.06 253.93,253.20 254.38,253.21 254.83,253.16 255.28,253.32 255.73,253.42 256.17,253.43 256.62,253.56 257.07,253.50 257.52,253.32 257.96,253.36 258.41,253.41 258.86,253.40 259.31,253.37 259.76,253.24 260.20,253.16 260.65,253.14 261.10,253.17 261.55,253.17 262.00,253.09 262.44,253.14 262.89,253.29 263.34,253.33 263.79,253.23 264.24,253.08 264.68,253.09 265.13,253.20 265.58,253.24 266.03,253.28 266.47,253.35 266.92,253.33 267.37,253.29 267.82,253.33 268.27,253.34 268.71,253.34 269.16,253.40 269.61,253.40 270.06,253.33 270.51,253.33 270.95,253.39 271.40,253.46 271.85,253.45 272.30,253.42 272.75,253.40 273.19,253.41 273.64,253.42 274.09,253.24 274.54,253.14 274.98,253.32 275.43,253.30 275.88,253.16 276.33,253.16 276.78,253.29 277.22,253.47 277.67,253.35 278.12,253.17 278.57,253.23 279.02,253.35 279.46,253.39 279.91,253.14 280.36,252.98 280.81,253.13 281.26,253.19 281.70,253.07 282.15,253.01 282.60,253.23 283.05,253.28 283.49,253.10 283.94,253.08 284.39,253.10 284.84,253.03 285.29,252.67 285.73,252.21 286.18,251.90 286.57,251.61 286.63,251.52 286.79,251.51 287.02,251.43 287.08,251.46 287.53,251.97 287.97,252.30 288.42,252.54 288.87,252.78 289.32,252.81 289.77,252.87 290.21,253.02 290.66,253.12 291.11,253.25 291.56,253.32 292.00,253.27 292.45,253.30 292.90,253.28 293.35,253.19 293.80,253.18 294.24,253.24 294.69,253.35 295.14,253.37 295.59,253.23 296.04,253.15 296.48,253.18 296.93,253.24 297.38,253.30 297.83,253.26 298.28,253.24 298.72,253.37 299.17,253.37 299.62,253.32 300.07,253.35 300.52,253.29 300.96,253.24 301.41,253.24 301.86,253.19 302.31,253.19 302.75,253.32 303.20,253.50 303.65,253.49 304.10,253.41 304.55,253.43 304.99,253.38 305.44,253.36 305.89,253.40 306.34,253.47 306.79,253.55 307.23,253.36 307.68,253.23 308.13,253.33 308.58,253.28 309.03,253.07 309.47,253.01 309.92,253.26 310.37,253.44 310.82,253.43 311.26,253.48 311.71,253.47 312.16,253.38 312.61,253.31 313.06,253.20 313.50,253.22 313.95,253.34 314.40,253.25 314.85,253.11 315.30,253.15 315.74,253.12 316.19,253.06 316.64,253.06 317.09,252.93 317.54,252.73 317.98,252.78 318.43,252.83 318.88,252.64 319.33,252.57 319.77,252.61 320.22,252.47 320.61,252.30 320.67,252.31 320.83,252.43 321.06,252.46 321.12,252.32 321.57,252.35 322.01,252.62 322.46,252.80 322.91,252.78 323.36,252.79 323.81,252.92 324.25,253.05 324.70,253.07 325.15,253.02 325.60,253.08 326.05,253.10 326.49,253.09 326.94,253.18 327.39,253.22 327.84,253.22 328.28,253.19 328.73,253.12 329.18,253.20 329.63,253.31 330.08,253.37 330.52,253.33 330.97,253.13 331.42,253.07 331.87,253.24 332.32,253.44 332.76,253.54 333.21,253.40 333.66,253.26 334.11,253.27 334.56,253.16 335.00,253.22 335.45,253.49 335.90,253.48 336.35,253.40 336.79,253.47 337.24,253.51 337.69,253.47 338.14,253.37 338.59,253.18 339.03,253.17 339.48,253.43 339.93,253.53 340.38,253.42 340.83,253.35 341.27,253.28 341.72,253.31 342.17,253.44 342.62,253.46 343.07,253.39 343.51,253.41 343.96,253.44 344.41,253.43 344.86,253.33 345.31,253.24 345.75,253.39 346.20,253.51 346.65,253.34 347.10,253.30 347.54,253.42 347.99,253.46 348.44,253.32 348.89,253.19 349.34,253.20 349.78,253.16 350.23,253.18 350.68,253.29 351.13,253.33 351.58,253.52 352.02,253.69 352.47,253.56 352.92,253.36 353.37,253.21 353.82,253.13 354.26,253.13 354.71,253.13 355.16,253.12 355.61,253.16 356.05,253.19 356.50,253.11 356.95,253.03 357.40,253.11 357.85,253.27 358.29,253.37 358.74,253.45 359.19,253.43 359.64,253.34 360.09,253.27 360.53,253.30 360.98,253.51 361.43,253.51 361.88,253.27 362.33,253.18 362.77,253.18 363.22,253.08 363.67,253.16 364.12,253.33 364.56,253.31 365.01,253.29 365.46,253.31 365.91,253.25 366.36,253.24 366.80,253.21 367.25,253.20 367.70,253.24 368.15,253.30 368.60,253.40 369.04,253.42 369.49,253.40 369.94,253.30 370.39,253.22 370.84,253.12 371.28,253.09 371.73,253.25 372.18,253.28 372.63,253.23 373.07,253.27 373.52,253.23 373.97,253.23 374.42,253.29 374.87,253.17 375.31,253.07 375.76,253.17 376.21,253.10 376.66,252.81 377.11,252.55 377.55,252.37 377.94,252.41 378.00,252.57 378.16,252.53 378.39,252.45 378.45,252.58 378.90,252.80 379.35,252.81 379.79,252.90 380.24,253.14 380.69,253.21 381.14,253.15 381.58,253.06 382.03,252.98 382.48,253.02 382.93,253.13 383.38,253.23 383.82,253.32 384.27,253.35 384.72,253.33 385.17,253.26 385.62,253.08 386.06,252.99 386.51,253.07 386.96,253.13 387.41,253.16 387.86,253.16 388.30,253.09 388.75,253.11 389.20,253.23 389.65,253.26 390.10,253.25 390.54,253.30 390.99,253.24 391.44,253.18 391.89,253.34 392.33,253.45 392.78,253.38 393.23,253.44 393.68,253.56 394.13,253.47 394.57,253.39 395.02,253.46 395.47,253.39 395.92,253.26 396.37,253.29 396.81,253.34 397.26,253.32 397.71,253.34 398.16,253.38 398.61,253.23 399.05,253.19 399.50,253.36 399.95,253.46 400.40,253.38 400.84,253.29 401.29,253.37 401.74,253.48 402.19,253.43 402.64,253.27 403.08,253.24 403.53,253.20 403.98,253.08 404.43,253.20 404.88,253.35 405.32,253.27 405.77,253.24 406.22,253.39 406.67,253.48 407.12,253.40 407.56,253.26 408.01,253.30 408.46,253.36 408.91,253.24 409.35,253.23 409.80,253.42 410.25,253.43 410.70,253.13 411.15,252.90 411.59,252.97 412.04,253.11 412.49,253.26 412.94,253.34 413.39,253.27 413.83,253.22 414.28,253.22 414.73,253.20 415.18,253.21 415.63,253.36 416.07,253.57 416.52,253.47 416.97,253.20 417.42,253.13 417.86,253.11 418.31,253.07 418.76,253.10 419.21,253.22 419.66,253.32 420.10,253.25 420.55,253.12 421.00,253.06 421.45,253.10 421.90,253.21 422.34,253.32 422.79,253.36 423.24,253.33 423.69,253.37 424.14,253.37 424.58,253.20 425.03,253.02 425.48,253.09 425.93,253.36 426.37,253.47 426.82,253.41 427.27,253.35 427.72,253.26 428.17,253.19 428.61,253.24 429.06,253.36 429.51,253.35 429.96,253.26 430.41,253.26 430.85,253.33 431.30,253.29 431.75,253.29 432.20,253.41 432.65,253.38 433.09,253.36 433.54,253.47 433.99,253.44 434.44,253.33 434.89,253.26 435.33,253.15 435.78,253.02 436.23,253.05 436.68,253.16 437.12,253.15 437.57,253.17 438.02,253.13 438.47,253.08 438.92,253.16 439.36,253.26 439.81,253.36 440.26,253.41 440.71,253.34 441.16,253.22 441.60,253.14 442.05,253.12 442.50,253.03 442.95,252.87 443.40,252.75 443.84,252.60 444.29,252.41 444.74,252.13 445.19,251.74 445.63,251.47 446.08,251.26 446.29,251.09 446.51,251.16 446.53,251.22 446.74,251.01 446.98,251.13 447.43,251.45 447.87,251.75 448.32,252.05 448.77,252.15 449.22,252.45 449.67,252.71 450.11,252.60 450.56,252.44 451.01,252.30 451.46,252.19 451.91,252.11 452.29,252.01 452.35,252.06 452.51,252.12 452.74,252.03 452.80,252.03 453.25,252.14 453.70,252.27 454.14,252.56 454.59,252.66 455.04,252.64 455.49,252.77 455.94,252.87 456.38,252.95 456.83,253.04 457.28,253.12 457.73,253.19 458.18,253.21 458.62,253.26 459.07,253.30 459.52,253.28 459.97,253.19 460.42,253.10 460.86,253.13 461.31,253.29 461.76,253.48 462.21,253.58 462.65,253.50 463.10,253.34 463.55,253.27 464.00,253.29 464.45,253.36 464.89,253.46 465.34,253.39 465.79,253.20 466.24,253.23 466.69,253.39 467.13,253.36 467.58,253.33 468.03,253.36 468.48,253.28 468.93,253.21 469.37,253.12 469.82,253.10 470.27,253.21 470.72,253.17 471.16,253.13 471.61,253.22 472.06,253.31 472.51,253.31 472.96,253.20 473.40,253.11 473.85,253.12 474.30,253.15 474.75,253.26 475.20,253.34 475.64,253.40 476.09,253.51 476.54,253.47 476.99,253.38 477.44,253.32 477.88,253.32 478.33,253.43 478.78,253.38 479.23,253.26 479.68,253.35 480.12,253.44 480.57,253.43 481.02,253.32 481.47,253.12 481.91,253.19 482.36,253.42 482.81,253.33 483.26,253.17 483.71,253.23 484.15,253.17 484.60,252.96 485.05,252.88 485.50,253.02 485.95,253.22 486.39,253.27 486.84,253.26 487.29,253.32 487.74,253.24 488.19,253.07 488.63,253.09 489.08,253.10 489.53,253.06 489.98,253.13 490.42,253.19 490.87,253.14 491.32,253.05 491.77,253.20 492.22,253.33 492.66,253.09 493.11,252.94 493.56,253.07 494.01,253.12 494.46,252.95 494.90,252.77 495.35,252.67 495.80,252.42 496.25,252.16 496.70,252.11 496.90,252.20 497.13,252.29 497.14,252.29 497.35,252.28 497.59,252.33 498.04,252.46 498.49,252.53 498.93,252.50 499.38,252.63 499.83,252.86 500.28,252.91 500.73,252.99 501.17,253.09 501.62,253.10 502.07,253.19 502.52,253.20 502.97,253.08 503.41,253.30 503.86,253.50 504.31,253.34 504.76,253.25 505.21,253.37 505.65,253.35 506.10,253.13 506.55,253.05 507.00,253.07 507.44,253.03 507.89,252.97 508.34,252.88 508.73,252.78 508.79,252.74 508.95,252.68 509.17,252.68 509.24,252.74 509.68,252.77 510.13,252.88 510.58,253.10 511.03,253.08 511.48,253.05 511.92,253.19 512.37,253.22 512.82,253.25 513.27,253.28 513.72,253.29 514.16,253.26 514.61,253.22 515.06,253.35 515.51,253.37 515.95,253.16 516.40,253.19 516.85,253.27 517.30,253.13 517.75,253.20 518.19,253.41 518.64,253.46 519.09,253.50 519.54,253.45 519.99,253.35 520.43,253.37 520.88,253.44 521.33,253.46 521.78,253.40 522.23,253.34 522.67,253.38 523.12,253.48 523.57,253.39 524.02,253.20 524.47,253.20 524.91,253.26 525.36,253.25" fill="none" stroke="#f05262" stroke-width="1.5" stroke-linejoin="round"/>
<polyline points="79.70,328.01 80.15,327.96 80.60,328.04 81.04,328.17 81.49,328.21 81.94,328.25 82.39,328.30 82.84,328.35 83.28,328.46 83.73,328.38 84.18,328.17 84.63,327.93 85.08,327.78 85.52,327.94 85.97,328.20 86.42,328.22 86.87,328.14 87.31,328.20 87.76,328.20 88.21,328.02 88.66,327.88 89.11,327.96 89.55,328.10 90.00,328.15 90.45,328.08 90.90,328.03 91.35,328.16 91.79,328.24 92.24,328.23 92.69,328.27 93.14,328.25 93.59,328.07 94.03,327.88 94.48,327.95 94.93,328.19 95.38,328.23 95.82,328.11 96.27,328.05 96.72,328.07 97.17,328.07 97.62,328.02 98.06,328.11 98.51,328.28 98.96,328.19 99.41,327.97 99.86,327.89 100.30,327.98 100.75,328.16 101.20,328.19 101.65,328.10 102.10,328.06 102.54,328.00 102.99,328.02 103.44,328.18 103.89,328.31 104.33,328.31 104.78,328.12 105.23,328.07 105.68,328.15 106.13,328.03 106.57,327.88 107.02,327.92 107.47,328.06 107.92,328.11 108.37,328.14 108.81,328.22 109.26,328.24 109.71,328.16 110.16,328.08 110.61,328.08 111.05,328.16 111.50,328.19 111.95,328.14 112.40,328.10 112.84,327.99 113.29,327.86 113.74,327.93 114.19,328.11 114.64,328.22 115.08,328.24 115.53,328.19 115.98,328.21 116.43,328.28 116.88,328.18 117.32,328.03 117.77,328.00 118.22,327.99 118.67,327.96 119.12,328.07 119.56,328.12 120.01,328.11 120.46,328.16 120.91,328.04 121.36,327.92 121.80,327.88 122.25,327.85 122.70,327.88 123.15,327.93 123.59,327.93 124.04,327.73 124.49,327.27 124.94,326.36 125.39,324.95 125.83,323.29 126.13,322.47 126.28,322.35 126.35,322.40 126.58,322.71 126.73,323.11 127.18,324.71 127.63,326.14 128.07,327.06 128.52,327.59 128.97,327.77 129.42,327.79 129.87,327.99 130.31,328.17 130.76,328.03 131.21,327.88 131.66,327.81 132.10,327.85 132.55,328.03 133.00,328.07 133.45,328.12 133.90,328.33 134.34,328.30 134.79,328.10 135.24,328.10 135.69,328.15 136.14,328.11 136.58,328.08 137.03,328.11 137.48,328.20 137.93,328.17 138.38,328.14 138.82,328.20 139.27,328.18 139.72,328.11 140.17,328.15 140.61,328.22 141.06,328.13 141.51,327.97 141.96,327.89 142.41,327.86 142.85,327.87 143.30,327.95 143.75,327.90 144.20,327.78 144.65,327.90 145.09,328.03 145.54,327.95 145.99,327.92 146.44,327.98 146.89,327.85 147.33,327.70 147.78,327.73 148.23,327.88 148.68,328.02 149.12,328.02 149.57,327.84 150.02,327.65 150.47,327.59 150.92,327.58 151.36,327.50 151.81,327.38 152.26,327.36 152.71,327.12 153.16,326.16 153.60,324.12 153.99,321.97 154.05,321.67 154.21,321.55 154.44,322.21 154.50,322.47 154.95,324.70 155.40,326.31 155.84,326.95 156.29,327.15 156.74,327.09 157.19,326.93 157.63,326.79 158.08,326.47 158.53,326.02 158.98,325.56 159.43,324.94 159.87,323.90 160.32,322.32 160.77,320.33 161.22,317.88 161.67,315.00 162.11,312.44 162.50,311.27 162.56,311.22 162.72,310.89 162.95,310.91 163.01,311.13 163.46,313.12 163.91,315.85 164.35,318.55 164.80,320.82 165.25,322.70 165.70,324.15 166.15,325.17 166.59,325.81 167.04,326.16 167.49,326.25 167.94,326.22 168.38,326.26 168.83,326.23 169.28,326.10 169.73,325.75 170.18,324.39 170.62,320.97 171.07,315.03 171.52,308.20 171.64,307.00 171.86,306.04 171.97,306.31 172.08,307.08 172.42,311.41 172.86,318.12 173.31,322.80 173.76,325.23 174.21,326.36 174.66,326.83 175.10,327.02 175.55,327.29 176.00,327.51 176.45,327.46 176.89,327.45 177.34,327.56 177.79,327.61 178.24,327.70 178.69,327.90 179.13,327.92 179.58,327.74 180.03,327.77 180.48,327.88 180.93,327.88 181.37,327.87 181.82,327.93 182.27,327.99 182.72,327.94 183.17,327.91 183.61,327.96 184.06,327.97 184.51,328.01 184.96,328.07 185.40,328.04 185.85,328.01 186.30,327.95 186.75,327.86 187.20,327.82 187.64,327.87 188.09,327.94 188.54,327.90 188.99,327.89 189.44,328.02 189.88,328.00 190.33,327.96 190.78,328.11 191.23,328.12 191.68,328.08 192.12,328.14 192.57,328.07 193.02,328.10 193.47,328.18 193.91,328.04 194.36,328.03 194.81,328.08 195.26,327.98 195.71,328.01 196.15,328.21 196.60,328.27 197.05,328.09 197.50,328.04 197.95,328.13 198.39,328.04 198.84,327.97 199.29,328.05 199.74,328.12 200.19,328.17 200.63,328.25 201.08,328.24 201.53,328.17 201.98,328.06 202.42,327.97 202.87,328.01 203.32,328.07 203.77,328.05 204.22,328.02 204.66,328.07 205.11,328.29 205.56,328.35 206.01,328.16 206.46,328.08 206.90,328.13 207.35,328.21 207.80,328.19 208.25,328.09 208.70,328.06 209.14,328.03 209.59,328.02 210.04,328.06 210.49,328.07 210.94,328.10 211.38,328.17 211.83,328.19 212.28,328.18 212.73,328.14 213.17,328.07 213.62,328.08 214.07,328.10 214.52,328.09 214.97,328.15 215.41,328.08 215.86,327.94 216.31,327.94 216.76,328.01 217.21,328.03 217.65,327.90 218.10,327.80 218.55,327.95 219.00,328.10 219.45,328.04 219.89,328.01 220.34,327.95 220.79,327.86 221.24,328.00 221.68,328.13 222.13,328.15 222.58,328.15 223.03,328.10 223.48,328.05 223.92,328.07 224.37,328.20 224.82,328.31 225.27,328.23 225.72,328.09 226.16,328.00 226.61,328.05 227.06,328.14 227.51,328.00 227.96,327.94 228.40,328.01 228.85,328.14 229.30,328.14 229.75,327.97 230.19,328.04 230.64,328.12 231.09,327.98 231.54,327.99 231.99,328.18 232.43,328.23 232.88,328.00 233.33,327.93 233.78,328.18 234.23,328.27 234.67,328.02 235.12,327.92 235.57,328.12 236.02,328.20 236.47,328.19 236.91,328.12 237.36,328.03 237.81,328.10 238.26,328.29 238.70,328.20 239.15,327.90 239.60,327.98 240.05,328.20 240.50,328.08 240.94,327.94 241.39,328.02 241.84,328.08 242.29,328.05 242.74,328.02 243.18,328.01 243.63,328.05 244.08,328.06 244.53,328.01 244.98,328.02 245.42,328.13 245.87,328.23 246.32,328.19 246.77,328.13 247.21,328.16 247.66,328.21 248.11,328.25 248.56,328.29 249.01,328.36 249.45,328.32 249.90,328.14 250.35,328.09 250.80,328.19 251.25,328.18 251.69,328.04 252.14,327.85 252.59,327.85 253.04,328.08 253.49,328.23 253.93,328.15 254.38,328.06 254.83,328.11 255.28,328.11 255.73,328.13 256.17,328.11 256.62,328.00 257.07,327.89 257.52,327.81 257.96,327.81 258.41,327.89 258.86,328.05 259.31,328.17 259.76,328.21 260.20,328.14 260.65,328.07 261.10,328.08 261.55,328.10 262.00,328.15 262.44,328.11 262.89,328.01 263.34,328.05 263.79,328.08 264.24,328.11 264.68,328.25 265.13,328.29 265.58,328.12 266.03,327.93 266.47,327.84 266.92,327.95 267.37,327.94 267.82,327.87 268.27,328.04 268.71,328.13 269.16,328.03 269.61,327.97 270.06,328.02 270.51,328.04 270.95,327.96 271.40,328.08 271.85,328.27 272.30,328.22 272.75,328.13 273.19,328.04 273.64,327.96 274.09,328.05 274.54,328.08 274.98,328.03 275.43,328.14 275.88,328.28 276.33,328.18 276.78,327.93 277.22,327.83 277.67,327.93 278.12,328.14 278.57,328.23 279.02,328.14 279.46,327.97 279.91,327.92 280.36,328.03 280.81,328.05 281.26,328.00 281.70,328.07 282.15,328.14 282.60,328.06 283.05,327.84 283.49,327.75 283.94,327.87 284.39,327.93 284.84,327.81 285.29,327.62 285.73,327.47 286.18,327.37 286.57,327.25 286.63,327.17 286.79,327.07 287.02,327.11 287.08,327.17 287.53,327.23 287.97,327.39 288.42,327.72 288.87,327.99 289.32,328.11 289.77,328.15 290.21,328.08 290.66,327.94 291.11,327.87 291.56,328.01 292.00,328.20 292.45,328.21 292.90,328.20 293.35,328.19 293.80,328.10 294.24,328.07 294.69,328.12 295.14,328.18 295.59,328.19 296.04,328.17 296.48,328.09 296.93,328.01 297.38,327.98 297.83,328.03 298.28,328.04 298.72,327.92 299.17,328.08 299.62,328.30 300.07,328.12 300.52,327.96 300.96,328.10 301.41,328.21 301.86,328.17 302.31,328.15 302.75,328.12 303.20,328.22 303.65,328.39 304.10,328.23 304.55,328.02 304.99,328.04 305.44,328.13 305.89,328.19 306.34,328.20 306.79,328.08 307.23,327.99 307.68,328.06 308.13,328.08 308.58,327.98 309.03,327.90 309.47,327.93 309.92,327.99 310.37,327.98 310.82,327.95 311.26,328.03 311.71,328.05 312.16,327.96 312.61,327.93 313.06,328.02 313.50,328.02 313.95,327.87 314.40,327.85 314.85,327.89 315.30,328.01 315.74,328.13 316.19,328.08 316.64,328.04 317.09,328.12 317.54,328.29 317.98,328.34 318.43,328.19 318.88,327.97 319.33,327.97 319.77,328.14 320.22,328.12 320.67,328.08 321.12,328.05 321.57,328.03 322.01,328.11 322.46,328.16 322.91,328.11 323.36,328.08 323.81,328.08 324.25,328.10 324.70,328.21 325.15,328.30 325.60,328.27 326.05,328.23 326.49,328.05 326.94,327.90 327.39,328.03 327.84,328.12 328.28,328.08 328.73,328.00 329.18,327.92 329.63,328.01 330.08,328.21 330.52,328.24 330.97,328.06 331.42,328.05 331.87,328.15 332.32,328.18 332.76,328.26 333.21,328.16 333.66,328.06 334.11,328.24 334.56,328.24 335.00,328.12 335.45,328.17 335.90,328.22 336.35,328.21 336.79,328.05 337.24,327.95 337.69,328.11 338.14,328.32 338.59,328.44 339.03,328.41 339.48,328.24 339.93,328.08 340.38,328.02 340.83,328.00 341.27,327.99 341.72,327.90 342.17,327.84 342.62,327.99 343.07,328.23 343.51,328.39 343.96,328.28 344.41,328.12 344.86,328.07 345.31,327.97 345.75,327.88 346.20,327.95 346.65,328.18 347.10,328.17 347.54,328.01 347.99,328.08 348.44,328.21 348.89,328.21 349.34,328.12 349.78,328.00 350.23,327.99 350.68,328.12 351.13,328.15 351.58,328.00 352.02,328.00 352.47,328.11 352.92,328.11 353.37,328.17 353.82,328.22 354.26,328.28 354.71,328.35 355.16,328.29 355.61,328.16 356.05,328.01 356.50,328.01 356.95,328.20 357.40,328.35 357.85,328.43 358.29,328.41 358.74,328.25 359.19,328.18 359.64,328.21 360.09,328.14 360.53,328.04 360.98,328.04 361.43,328.09 361.88,328.06 362.33,328.02 362.77,328.03 363.22,328.08 363.67,328.09 364.12,328.05 364.56,327.96 365.01,328.03 365.46,328.15 365.91,328.07 366.36,328.04 366.80,327.93 367.25,327.85 367.70,328.03 368.15,328.09 368.60,328.03 369.04,328.05 369.49,327.99 369.94,327.95 370.39,328.00 370.84,328.13 371.28,328.20 371.73,328.08 372.18,328.13 372.63,328.11 373.07,327.84 373.52,327.83 373.97,328.01 374.42,328.05 374.87,328.10 375.31,328.12 375.76,327.93 376.21,327.66 376.66,327.54 377.11,327.63 377.55,327.67 377.94,327.70 378.00,327.67 378.16,327.66 378.39,327.86 378.45,327.94 378.90,327.83 379.35,327.71 379.79,327.75 380.24,327.84 380.69,327.85 381.14,327.90 381.58,328.04 382.03,328.12 382.48,328.09 382.93,328.10 383.38,328.19 383.82,328.02 384.27,327.78 384.72,327.88 385.17,328.09 385.62,328.16 386.06,328.09 386.51,328.01 386.96,328.04 387.41,328.10 387.86,328.05 388.30,327.97 388.75,328.01 389.20,328.08 389.65,327.98 390.10,327.93 390.54,328.04 390.99,328.07 391.44,328.11 391.89,328.21 392.33,328.28 392.78,328.23 393.23,328.08 393.68,327.98 394.13,328.04 394.57,328.22 395.02,328.29 395.47,328.24 395.92,328.03 396.37,327.95 396.81,328.15 397.26,328.19 397.71,328.11 398.16,328.14 398.61,328.19 399.05,328.10 399.50,328.02 399.95,328.10 400.40,328.07 400.84,328.11 401.29,328.29 401.74,328.26 402.19,328.01 402.64,327.90 403.08,328.04 403.53,328.15 403.98,328.05 404.43,327.93 404.88,327.89 405.32,327.94 405.77,328.09 406.22,328.24 406.67,328.20 407.12,328.08 407.56,328.11 408.01,328.13 408.46,328.06 408.91,328.16 409.35,328.31 409.80,328.26 410.25,328.17 410.70,328.10 411.15,327.99 411.59,327.92 412.04,328.06 412.49,328.31 412.94,328.42 413.39,328.35 413.83,328.22 414.28,328.10 414.73,328.03 415.18,328.08 415.63,328.10 416.07,328.09 416.52,328.10 416.97,327.95 417.42,327.81 417.86,327.82 418.31,327.80 418.76,327.93 419.21,328.12 419.66,328.14 420.10,328.16 420.55,328.28 421.00,328.25 421.45,328.17 421.90,328.21 422.34,328.19 422.79,328.13 423.24,328.06 423.69,327.93 424.14,327.93 424.58,328.06 425.03,328.12 425.48,328.07 425.93,328.10 426.37,328.24 426.82,328.31 427.27,328.29 427.72,328.22 428.17,328.09 428.61,328.04 429.06,328.08 429.51,328.04 429.96,328.09 430.41,328.20 430.85,328.09 431.30,327.99 431.75,328.16 432.20,328.28 432.65,328.23 433.09,328.17 433.54,328.06 433.99,327.96 434.44,327.96 434.89,328.10 435.33,328.17 435.78,328.11 436.23,328.10 436.68,328.01 437.12,328.01 437.57,328.14 438.02,328.15 438.47,328.00 438.92,327.89 439.36,327.91 439.81,328.05 440.26,328.19 440.71,328.10 441.16,327.92 441.60,327.82 442.05,327.75 442.50,327.79 442.95,327.87 443.40,327.83 443.84,327.69 444.29,327.47 444.74,327.32 445.19,327.14 445.63,326.65 446.08,326.23 446.53,326.03 446.83,325.87 446.98,325.88 447.05,325.95 447.27,325.89 447.43,325.89 447.87,325.97 448.32,326.15 448.77,326.13 449.22,325.83 449.67,325.52 450.11,325.25 450.56,325.14 450.86,325.08 451.01,324.98 451.08,324.98 451.31,324.94 451.46,324.90 451.91,325.33 452.35,325.99 452.80,326.43 453.25,326.70 453.70,327.04 454.14,327.28 454.59,327.36 455.04,327.66 455.49,327.96 455.94,327.90 456.38,327.89 456.83,327.93 457.28,327.88 457.73,327.96 458.18,328.07 458.62,328.07 459.07,328.02 459.52,328.00 459.97,328.03 460.42,328.11 460.86,328.21 461.31,328.16 461.76,327.92 462.21,327.82 462.65,328.03 463.10,328.11 463.55,327.90 464.00,327.75 464.45,327.89 464.89,328.04 465.34,327.98 465.79,327.97 466.24,328.12 466.69,328.20 467.13,328.12 467.58,328.03 468.03,328.09 468.48,328.26 468.93,328.26 469.37,328.05 469.82,327.89 470.27,327.95 470.72,328.06 471.16,328.08 471.61,328.15 472.06,328.17 472.51,328.16 472.96,328.18 473.40,328.12 473.85,328.00 474.30,328.12 474.75,328.24 475.20,328.05 475.64,328.03 476.09,328.16 476.54,328.08 476.99,327.93 477.44,327.94 477.88,328.12 478.33,328.28 478.78,328.28 479.23,328.21 479.68,328.14 480.12,328.04 480.57,328.01 481.02,328.03 481.47,328.10 481.91,328.22 482.36,328.17 482.81,328.10 483.26,328.13 483.71,328.04 484.15,327.94 484.60,327.94 485.05,327.92 485.50,328.02 485.95,328.09 486.39,328.09 486.84,328.10 487.29,328.07 487.74,327.98 488.19,327.92 488.63,327.95 489.08,327.96 489.53,327.97 489.98,328.03 490.42,327.98 490.87,327.81 491.32,327.78 491.77,327.95 492.22,328.07 492.66,328.11 493.11,328.16 493.56,328.17 494.01,328.04 494.46,327.84 494.90,327.61 495.35,327.44 495.80,327.30 496.25,327.09 496.70,326.78 497.14,326.45 497.44,326.33 497.59,326.35 497.66,326.35 497.89,326.37 498.04,326.39 498.49,326.55 498.93,326.86 499.38,327.30 499.83,327.59 500.28,327.69 500.73,327.89 501.17,328.07 501.62,327.97 502.07,327.92 502.52,327.94 502.97,327.89 503.41,328.04 503.86,328.23 504.31,328.21 504.76,328.13 505.21,328.08 505.65,328.05 506.10,328.01 506.55,327.87 507.00,327.71 507.44,327.64 507.89,327.53 508.34,327.33 508.79,327.03 508.99,326.89 509.22,327.12 509.24,327.34 509.44,327.23 509.68,327.05 510.13,327.15 510.58,327.38 511.03,327.58 511.48,327.77 511.92,327.91 512.37,328.08 512.82,328.07 513.27,327.89 513.72,327.92 514.16,327.91 514.61,327.84 515.06,327.91 515.51,328.06 515.95,328.08 516.40,328.02 516.85,328.20 517.30,328.36 517.75,328.26 518.19,328.16 518.64,328.05 519.09,327.99 519.54,328.09 519.99,328.18 520.43,328.30 520.88,328.41 521.33,328.31 521.78,328.24 522.23,328.20 522.67,327.97 523.12,327.89 523.57,327.96 524.02,328.04 524.47,328.11 524.91,328.18 525.36,328.25" fill="none" stroke="#626262" stroke-width="1.45" stroke-linejoin="round"/>
<rect x="79.7" y="4.8" width="445.90" height="331.60" fill="none" stroke="#000" stroke-width="1.2"/>
<g stroke="#000" stroke-width="1.3"><line x1="167.65" y1="336.4" x2="167.65" y2="331.4" /><line x1="257.23" y1="336.4" x2="257.23" y2="331.4" /><line x1="346.81" y1="336.4" x2="346.81" y2="331.4" /><line x1="436.39" y1="336.4" x2="436.39" y2="331.4" /></g>
<text x="79.5" y="359" class="tick" text-anchor="middle">30</text><text x="167.65" y="359" class="tick" text-anchor="middle">40</text><text x="257.23" y="359" class="tick" text-anchor="middle">50</text><text x="346.81" y="359" class="tick" text-anchor="middle">60</text><text x="436.39" y="359" class="tick" text-anchor="middle">70</text><text x="525.6" y="359" class="tick" text-anchor="middle">80</text>
<text transform="translate(129.9,121.8) rotate(-90) scale(0.9,1)" class="lab"><tspan class="it">α</tspan>(100)</text><text transform="translate(157.2,114.4) rotate(-90) scale(0.9,1)" class="lab"><tspan class="it">α</tspan>(002)</text><text transform="translate(175.8,85.0) rotate(-90) scale(0.9,1)" class="lab"><tspan class="it">α</tspan>(200)</text><text transform="translate(205.3,93.2) rotate(-90) scale(0.9,1)" class="lab"><tspan class="it">β</tspan>(110)</text><text transform="translate(290.2,128.2) rotate(-90) scale(0.9,1)" class="lab"><tspan class="it">α</tspan>(102)</text><text transform="translate(448.2,126.9) rotate(-90) scale(0.9,1)" class="lab"><tspan class="it">α</tspan>(103)</text><text transform="translate(501.6,127.6) rotate(-90) scale(0.9,1)" class="lab"><tspan class="it">α</tspan>(200)</text><text transform="translate(515.5,127.6) rotate(-90) scale(0.9,1)" class="lab"><tspan class="it">α</tspan>(112)</text>
<line x1="171" y1="97.1" x2="194.3" y2="91.3" stroke="#000" stroke-width="1.1"/><polygon points="162.4,99.4 171.6,94.4 172.9,99.9" fill="#000"/>
<text transform="translate(201.1,127.5) scale(1.0,1)" class="temp">895</text><text x="229.0" y="127.5" class="temp deg">℃</text><text transform="translate(201.1,195.4) scale(1.0,1)" class="temp">875</text><text x="229.0" y="195.4" class="temp deg">℃</text><text transform="translate(201.1,248.9) scale(1.0,1)" class="temp">855</text><text x="229.0" y="248.9" class="temp deg">℃</text><text transform="translate(201.1,324.6) scale(1.0,1)" class="temp">835</text><text x="229.0" y="324.6" class="temp deg">℃</text>
<text x="281.5" y="377.5" class="tick" style="font-size:17px;letter-spacing:0.8px">2<tspan class="it">θ</tspan>/(°)</text>
<text class="cn" font-weight="500" transform="translate(114.8,432) scale(1.07,1)">图</text><text class="cnb" x="143" y="432">3</text>
<text class="cn" transform="translate(180.2,432) scale(1.07,1)" letter-spacing="1.43">不同温度下热处理后炉冷所得</text>
<text class="cnb" x="184" y="471">TC18</text>
<text class="cn" transform="translate(243.4,471) scale(1.07,1)" letter-spacing="1.43">钛合金</text>
<text class="cnb" x="321" y="471">XRD</text>
<text class="cn" transform="translate(374.6,471) scale(1.07,1)" letter-spacing="0.5">图谱</text>
<text class="en" transform="translate(11.50,511.0) scale(1.05,1)" textLength="37.71" lengthAdjust="spacing">Fig.</text><text class="en" transform="translate(55.70,511.0) scale(1.05,1)">3</text><text class="en" transform="translate(92.50,511.0) scale(1.05,1)" textLength="46.10" lengthAdjust="spacing">XRD</text><text class="en" transform="translate(151.50,511.0) scale(1.05,1)" textLength="76.00" lengthAdjust="spacing">patterns</text><text class="en" transform="translate(239.30,511.0) scale(1.05,1)" textLength="18.67" lengthAdjust="spacing">of</text><text class="en" transform="translate(268.30,511.0) scale(1.05,1)" textLength="50.67" lengthAdjust="spacing">TC18</text><text class="en" transform="translate(331.70,511.0) scale(1.05,1)" textLength="79.81" lengthAdjust="spacing">titanium</text><text class="en" transform="translate(423.30,511.0) scale(1.05,1)" textLength="45.90" lengthAdjust="spacing">alloy</text><text class="en" transform="translate(478.70,511.0) scale(1.05,1)" textLength="79.24" lengthAdjust="spacing">obtained</text><text class="en" transform="translate(572.10,511.0) scale(1.05,1)" textLength="21.71" lengthAdjust="spacing">by</text><text class="en" transform="translate(109.50,549.6) scale(1.05,1)" textLength="68.57" lengthAdjust="spacing">furnace</text><text class="en" transform="translate(189.30,549.6) scale(1.05,1)" textLength="66.67" lengthAdjust="spacing">cooling</text><text class="en" transform="translate(269.10,549.6) scale(1.05,1)" textLength="43.43" lengthAdjust="spacing">after</text><text class="en" transform="translate(322.50,549.6) scale(1.05,1)" textLength="39.43" lengthAdjust="spacing">heat</text><text class="en" transform="translate(373.90,549.6) scale(1.05,1)" textLength="90.48" lengthAdjust="spacing">treatment</text><text class="en" transform="translate(477.90,549.6) scale(1.05,1)" textLength="18.10" lengthAdjust="spacing">at</text><text class="en" transform="translate(191.50,588.8) scale(1.05,1)" textLength="79.24" lengthAdjust="spacing">different</text><text class="en" transform="translate(284.30,588.8) scale(1.05,1)" textLength="125.71" lengthAdjust="spacing">temperatures</text>
</svg>
</body></html>
